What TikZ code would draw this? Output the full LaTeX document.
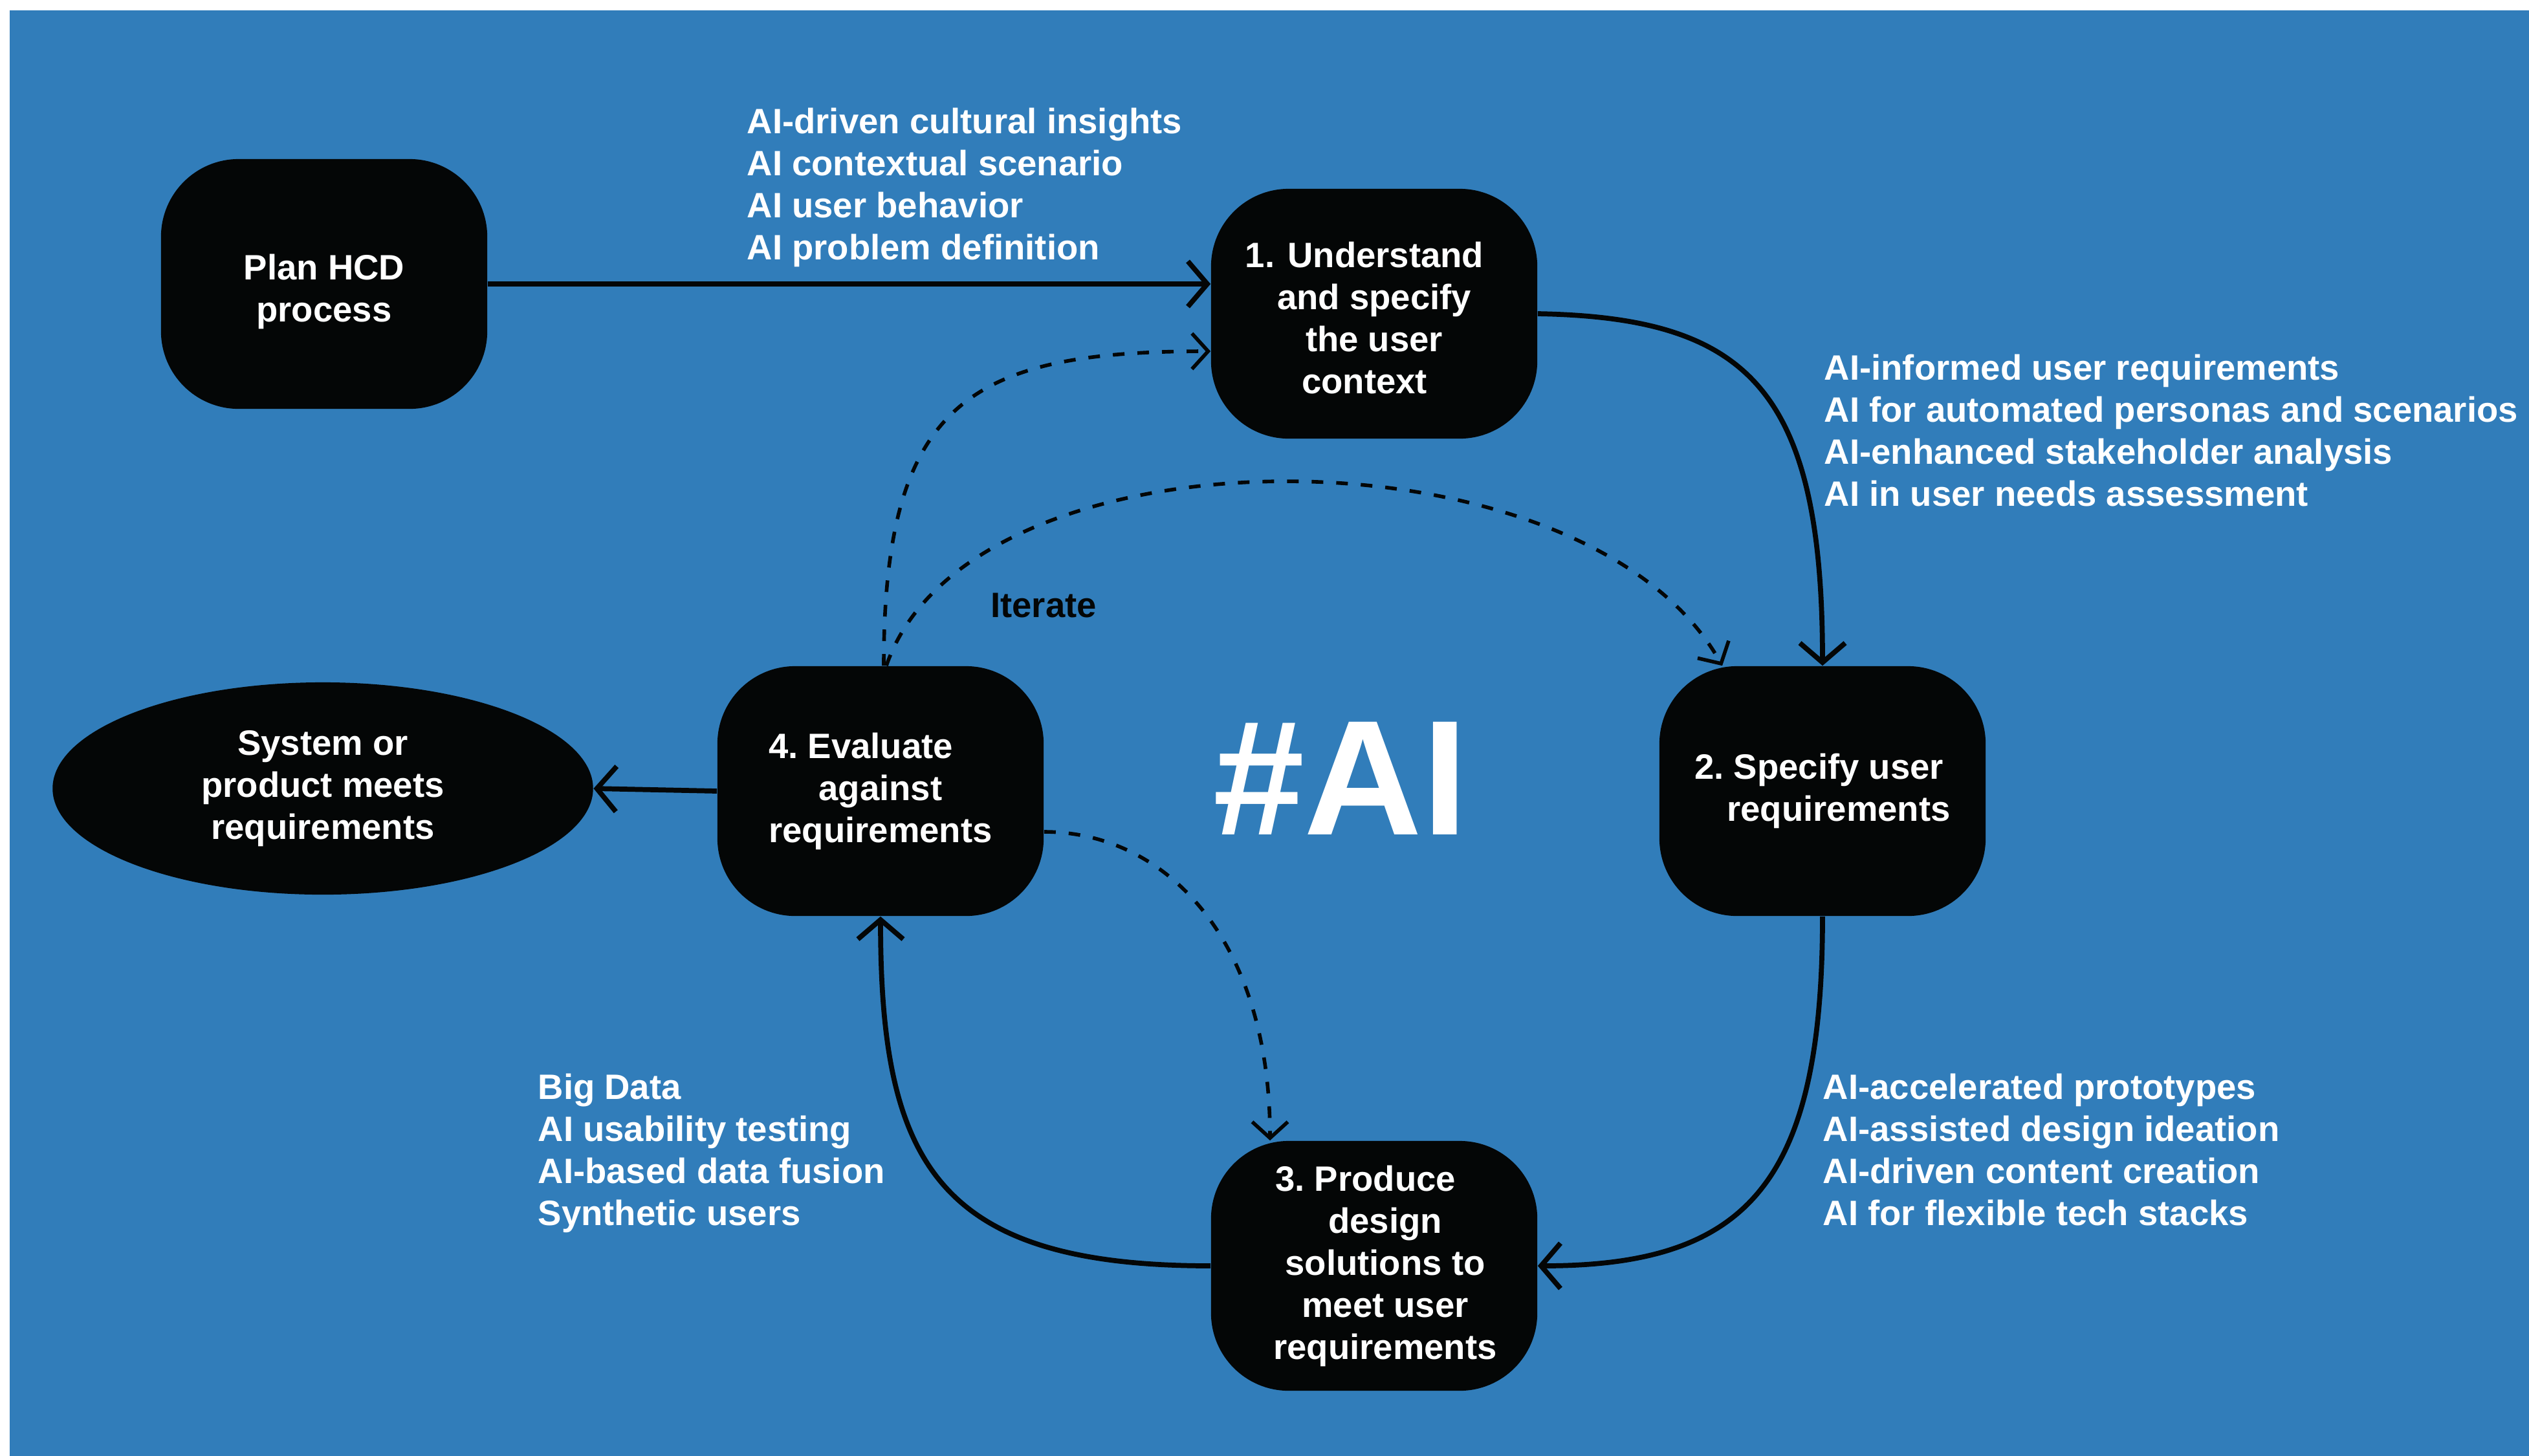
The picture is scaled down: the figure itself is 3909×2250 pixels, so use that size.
\documentclass[tikz,border=0pt]{standalone}
\usepackage{fontspec}
\setmainfont{Liberation Sans}
\usetikzlibrary{arrows.meta,shapes.geometric,calc}
\definecolor{bgblue}{RGB}{49,125,186}
\definecolor{nodeblk}{RGB}{4,6,6}
\begin{document}
\begin{tikzpicture}[x=0.01cm,y=-0.01cm,
  txt/.style={font=\fontsize{15.5}{18.5}\selectfont\bfseries},
  stepnode/.style={txt, fill=nodeblk, text=white, rounded corners=1.2cm, minimum width=5.04cm, minimum height=3.86cm, align=center, inner sep=0},
  lbl/.style={txt, text=white, align=left, anchor=north west, inner sep=0},
  flow/.style={line width=2.2pt, draw=nodeblk, -{Straight Barb[length=0.3cm,width=0.7cm]}},
  loop/.style={line width=1.6pt, draw=nodeblk, dash pattern=on 0.18cm off 0.2cm, -{Straight Barb[length=0.25cm,width=0.55cm]}}]
\useasboundingbox (0,0) rectangle (3909,2250);
\fill[white] (-10,-10) rectangle (3930,2270);
\fill[bgblue] (15,16) rectangle (3930,2270);

\node[stepnode] (plan) at (501,439) {\rule{0pt}{0.64cm}Plan HCD\\process};
\node[stepnode] (n1) at (2124,485) {\rule{0pt}{0.53cm}1. Understand\hspace*{0.3cm}\\and specify\hspace*{0.3cm}\\the user\hspace*{0.3cm}\\context\hspace*{0.3cm}};
\node[stepnode] (n2) at (2817,1223) {\hspace*{0.5cm}\llap{2.\ }Specify user\\\hspace*{0.5cm}requirements};
\node[stepnode] (n3) at (2124,1957) {\hspace*{0.34cm}\llap{3.\ }Produce\\\hspace*{0.34cm}design\\\hspace*{0.34cm}solutions to\\\hspace*{0.34cm}meet user\\\hspace*{0.34cm}requirements};
\node[stepnode] (n4) at (1361,1223) {\llap{4.\ }Evaluate\\against\\requirements};
\node[ellipse, txt, fill=nodeblk, text=white, minimum width=8.35cm, minimum height=3.28cm, align=center, inner sep=0] (ell) at (499,1219) {System or\\product meets\\requirements};

\draw[flow] (plan.east) -- (plan.east -| n1.west);
\draw[flow] (n1.east) .. controls (2700,491) and (2817,600) .. (n2.north);
\draw[flow] (n2.south) .. controls (2817,1830) and (2700,1957) .. (n3.east);
\draw[flow] (n3.west) .. controls (1450,1957) and (1361,1800) .. (n4.south);
\draw[flow] (n4.west) -- (ell.east);

\draw[loop] ($(n4.north)+(5,0)$) .. controls (1366,620) and (1500,543) .. ($(n1.west)+(0,58)$);
\draw[loop] ($(n4.north)+(9,0)$) .. controls (1500,650) and (2450,650) .. ($(n2.north)+(-155,0)$);
\draw[loop] ($(n4.east)+(0,63)$) .. controls (1800,1286) and (1963,1450) .. ($(n3.north)+(-161,0)$);

\node[lbl] (t1) at (1154,166) {AI-driven cultural insights\\AI contextual scenario\\AI user behavior\\AI problem definition};
\node[lbl] (t2) at (2819,547) {AI-informed user requirements\\AI for automated personas and scenarios\\AI-enhanced stakeholder analysis\\AI in user needs assessment};
\node[lbl] (t3) at (2817,1659) {AI-accelerated prototypes\\AI-assisted design ideation\\AI-driven content creation\\AI for flexible tech stacks};
\node[lbl] (t4) at (831,1659) {Big Data\\AI usability testing\\AI-based data fusion\\Synthetic users};
\node[txt, text=nodeblk, inner sep=0] (iter) at (1613,936) {Iterate};
\node[font=\fontsize{72}{80}\selectfont\bfseries, text=white, anchor=base, inner sep=0] (hash) at (2072,1290) {\#AI};
\end{tikzpicture}
\end{document}
